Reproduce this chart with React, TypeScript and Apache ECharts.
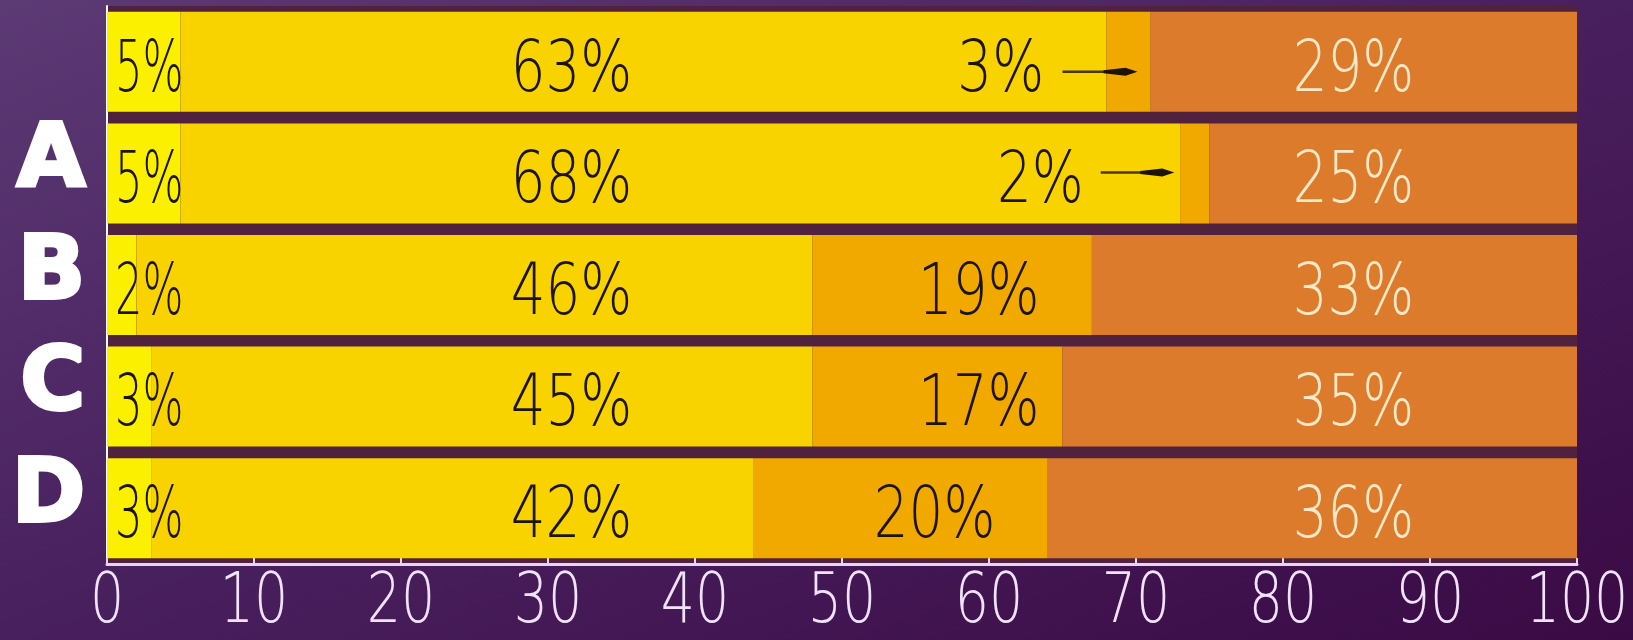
import React, { useEffect, useRef } from "react";
import * as echarts from "echarts";

// Rows from top to bottom (first row carries no letter)
const rows = ["", "A", "B", "C", "D"];
// Segment widths (percent)
const lemon = [5, 5, 2, 3, 3];
const gold = [63, 68, 46, 45, 41];
const amber = [3, 2, 19, 17, 20];
const orange = [29, 25, 33, 35, 36];
// Percentages printed on the bars
const lemonPrinted = [5, 5, 2, 3, 3];
const goldPrinted = [63, 68, 46, 45, 42];
const amberPrinted = [3, 2, 19, 17, 20];
const orangePrinted = [29, 25, 33, 35, 36];
// x-axis tick labels
const xTicks = [0, 10, 20, 30, 40, 50, 60, 70, 80, 90, 100];

const FONT = "'DejaVu Sans', sans-serif";
const SQUEEZE = 0.76;

export default function App() {
  const ref = useRef<HTMLDivElement>(null);
  useEffect(() => {
    document.body.style.margin = "0";
    if (!ref.current) return;
    const chart = echarts.init(ref.current, undefined, { renderer: "svg" });

    // label anchors (axis units) for each segment column
    const amberLabelX = [60.8, 63.5, 59.3, 59.3, 56.3];
    type Lbl = { x: number; row: number; text: string; fill: string; align: string; sx: number };
    const labels: Lbl[] = [];
    rows.forEach((_, r) => {
      labels.push({ x: 0.55, row: r, text: lemonPrinted[r] + "%", fill: "#1c1400", align: "left", sx: 0.6 });
      labels.push({ x: 31.6, row: r, text: goldPrinted[r] + "%", fill: "#1c1400", align: "center", sx: SQUEEZE });
      labels.push({ x: amberLabelX[r], row: r, text: amberPrinted[r] + "%", fill: "#1c1400", align: "center", sx: SQUEEZE });
      labels.push({ x: 84.8, row: r, text: orangePrinted[r] + "%", fill: "#fde8c8", align: "center", sx: SQUEEZE });
    });

    // small pointer arrows for the thin amber segments
    const arrows = [
      { row: 0, from: 65.0, to: 70.1, dy: 10 },
      { row: 1, from: 67.6, to: 72.6, dy: -1 },
    ];

    const barBase = {
      type: "bar",
      stack: "total",
      barWidth: 100,
      silent: true,
    };

    chart.setOption({
      animation: false,
      backgroundColor: new echarts.graphic.LinearGradient(0, 0, 1, 1, [
        { offset: 0, color: "#5c3a74" },
        { offset: 0.45, color: "#4a2260" },
        { offset: 1, color: "#3a0a44" },
      ]),
      grid: {
        left: 107,
        right: 56,
        top: 6,
        bottom: 76,
        show: true,
        backgroundColor: "#50223e",
        borderWidth: 0,
        containLabel: false,
        outerBoundsMode: "none",
      },
      xAxis: {
        type: "value",
        min: 0,
        max: 100,
        interval: 10,
        splitLine: { show: false },
        axisLine: { show: true, lineStyle: { color: "#e8d2f6", width: 3 } },
        axisTick: { show: true, inside: true, length: 6, lineStyle: { color: "#e8d2f6", width: 2 } },
        axisLabel: { show: false },
      },
      yAxis: {
        type: "category",
        inverse: true,
        data: rows,
        axisLine: { show: true, lineStyle: { color: "#ffffff", width: 2 } },
        axisTick: { show: false },
        axisLabel: {
          interval: 0,
          margin: 22,
          formatter: (v: string) => (v ? `{l|${v}}\n{s| }` : ""),
          rich: {
            l: {
              color: "#ffffff",
              fontFamily: FONT,
              fontWeight: "bold",
              fontSize: 88,
              lineHeight: 96,
              textBorderColor: "#ffffff",
              textBorderWidth: 4,
              align: "right",
            },
            s: { fontSize: 10, lineHeight: 36, height: 36 },
          },
        },
      },
      series: [
        { ...barBase, name: "lemon", data: lemon, itemStyle: { color: "#fbf000" } },
        { ...barBase, name: "gold", data: gold, itemStyle: { color: "#f8d300" } },
        { ...barBase, name: "amber", data: amber, itemStyle: { color: "#f1a900" } },
        { ...barBase, name: "orange", data: orange, itemStyle: { color: "#dc7b2b" } },
        {
          type: "custom",
          name: "labels",
          silent: true,
          z: 10,
          clip: false,
          data: labels.map((l) => [l.x, l.row]),
          renderItem: (params: any, api: any) => {
            const l = labels[params.dataIndex];
            const p = api.coord([l.x, l.row]);
            return {
              type: "text",
              x: p[0],
              y: p[1] + 4,
              scaleX: l.sx,
              style: {
                text: l.text,
                fill: l.fill,
                fontFamily: FONT,
                fontWeight: 300,
                fontSize: 72,
                align: l.align,
                verticalAlign: "middle",
              },
            };
          },
        },
        {
          type: "custom",
          name: "xTickLabels",
          silent: true,
          z: 10,
          clip: false,
          data: xTicks.map((v) => [v, 0]),
          renderItem: (params: any, api: any) => {
            const v = xTicks[params.dataIndex];
            const p = api.coord([v, 0]);
            const cs = params.coordSys;
            return {
              type: "text",
              x: p[0],
              y: cs.y + cs.height + 35,
              scaleX: 0.78,
              style: {
                text: String(v),
                fill: "#f0e2fb",
                fontFamily: FONT,
                fontWeight: 300,
                fontSize: 69,
                lineHeight: 56,
                align: "center",
                verticalAlign: "middle",
              },
            };
          },
        },
        {
          type: "custom",
          name: "arrows",
          silent: true,
          z: 11,
          clip: false,
          data: arrows.map((a) => [a.from, a.row]),
          renderItem: (params: any, api: any) => {
            const a = arrows[params.dataIndex];
            const s = api.coord([a.from, a.row]);
            const e = api.coord([a.to, a.row]);
            const y = s[1] + a.dy;
            return {
              type: "group",
              children: [
                {
                  type: "line",
                  shape: { x1: s[0], y1: y, x2: e[0] - 20, y2: y },
                  style: { stroke: "#4a3800", lineWidth: 2.5 },
                },
                {
                  type: "polygon",
                  shape: {
                    points: [
                      [e[0], y],
                      [e[0] - 12, y - 4],
                      [e[0] - 34, y - 1.5],
                      [e[0] - 34, y + 1.5],
                      [e[0] - 12, y + 4],
                    ],
                  },
                  style: { fill: "#1e1200" },
                },
              ],
            };
          },
        },
      ],
    });
    return () => chart.dispose();
  }, []);
  return <div ref={ref} style={{ width: 1633, height: 640 }} />;
}
